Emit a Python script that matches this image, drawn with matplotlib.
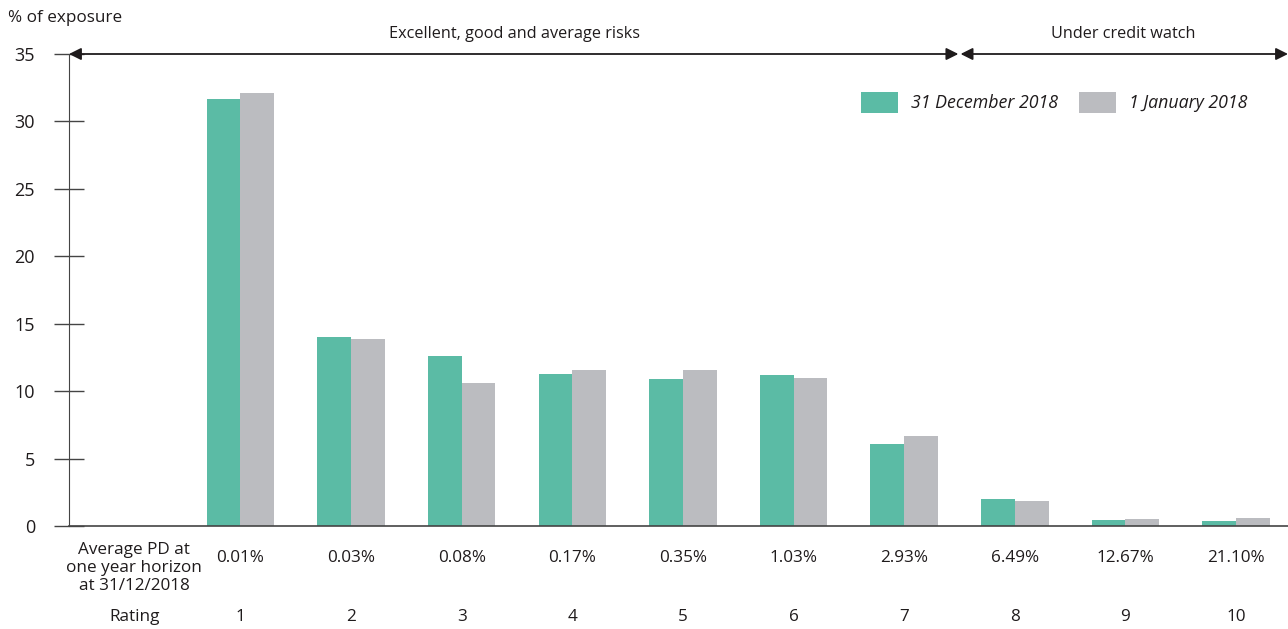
import matplotlib.pyplot as plt
import numpy as np

ratings = ['1', '2', '3', '4', '5', '6', '7', '8', '9', '10']
avg_pd = ['0.01%', '0.03%', '0.08%', '0.17%', '0.35%', '1.03%', '2.93%', '6.49%', '12.67%', '21.10%']
dec_2018 = [31.7, 14.0, 12.6, 11.3, 10.9, 11.2, 6.1, 2.0, 0.45, 0.37]
jan_2018 = [32.1, 13.9, 10.6, 11.6, 11.6, 11.0, 6.7, 1.85, 0.55, 0.6]

GREEN = '#5bbba5'
GREY = '#bbbcc0'
INK = '#1f1b1c'

plt.rcParams['font.family'] = ['Open Sans', 'DejaVu Sans']
plt.rcParams['text.color'] = INK

fig = plt.figure(figsize=(12.88, 6.29), dpi=100)
ax = fig.add_axes([69 / 1288, 1 - 526 / 629, 1 - 69 / 1288, (526 - 54) / 629])

x = np.arange(1, len(ratings) + 1)
w = 0.305
ax.bar(x - w / 2, dec_2018, w, color=GREEN, label='31 December 2018')
ax.bar(x + w / 2, jan_2018, w, color=GREY, label='1 January 2018')

ax.set_xlim(-0.55, 10.47)
ax.set_ylim(0, 35)
ax.set_yticks(range(0, 36, 5))
ax.set_xticks([])
ax.tick_params(axis='y', direction='inout', length=21, width=1, color='#444444',
               labelsize=13, pad=14, labelcolor=INK)
for s in ['top', 'right']:
    ax.spines[s].set_visible(False)
ax.spines['left'].set_color('#444444')
ax.spines['bottom'].set_color('#444444')
ax.spines['bottom'].set_linewidth(1.2)

# top range arrows
arrow = dict(arrowstyle='<|-|>', color=INK, lw=1.3, mutation_scale=18,
             shrinkA=0, shrinkB=0)
ax.annotate('', xy=(-0.55, 35), xytext=(7.49, 35), arrowprops=arrow, annotation_clip=False)
ax.annotate('', xy=(7.51, 35), xytext=(10.47, 35), arrowprops=arrow, annotation_clip=False)
ax.text((-0.55 + 7.5) / 2, 35.9, 'Excellent, good and average risks', ha='center',
        va='bottom', fontsize=11.7)
ax.text((7.5 + 10.47) / 2, 35.9, 'Under credit watch', ha='center', va='bottom', fontsize=11.7)

fig.text(8 / 1288, 1 - 18 / 629, '% of exposure', ha='left', va='center', fontsize=12.3)

# bottom rows
trans = ax.get_xaxis_transform()
for xi, pd_txt, r in zip(x, avg_pd, ratings):
    ax.text(xi, -0.068, pd_txt, transform=trans, ha='center', va='center', fontsize=12.3)
    ax.text(xi, -0.193, r, transform=trans, ha='center', va='center', fontsize=12.3)
ax.text(0.04, -0.089, 'Average PD at\none year horizon\nat 31/12/2018', transform=trans,
        ha='center', va='center', fontsize=12.3, linespacing=1.17)
ax.text(0.04, -0.193, 'Rating', transform=trans, ha='center', va='center', fontsize=12.3)

leg = ax.legend(loc='upper right', bbox_to_anchor=(1263 / 1288, 1 - 76 / 629),
                bbox_transform=fig.transFigure, ncol=2, frameon=False,
                handlelength=2.1, handleheight=1.4, columnspacing=1.2,
                handletextpad=0.7, prop={'style': 'italic', 'size': 12.8})

fig.savefig('out.png', dpi=100)
